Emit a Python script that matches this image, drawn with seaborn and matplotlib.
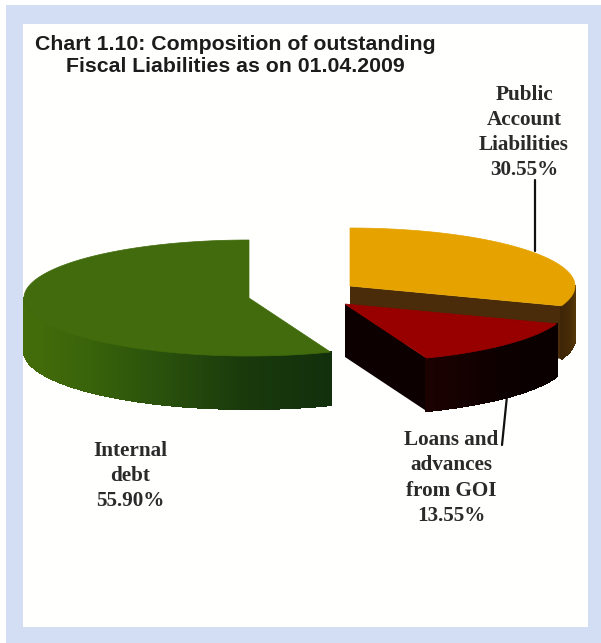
import numpy as np
import matplotlib
matplotlib.use("Agg")
import matplotlib.pyplot as plt
from matplotlib.collections import PolyCollection
from matplotlib.patches import Rectangle
import seaborn as sns

# Shares of outstanding fiscal liabilities, per cent
slice_names = ["Internal\ndebt", "Public\nAccount\nLiabilities", "Loans and\nadvances\nfrom GOI"]
slice_shares = [55.90, 30.55, 13.55]
title_lines = ["Chart 1.10: Composition of outstanding", "Fiscal Liabilities as on 01.04.2009"]

sns.set_theme(style="white")
plt.rcParams["font.family"] = ["Liberation Serif", "DejaVu Serif"]

fig = plt.figure(figsize=(6.01, 6.43), dpi=100)
ax = fig.add_axes([0, 0, 1, 1])
ax.set_xlim(0, 601)
ax.set_ylim(643, 0)
ax.axis("off")

# Page panel: pale blue band around a white sheet
ax.add_patch(Rectangle((6, 5), 595, 638, fc="#d3ddf3", ec="none", zorder=0))
ax.add_patch(Rectangle((23, 24), 565, 603, fc="#fffffe", ec="none", zorder=1))

RX, RY, DEPTH = 225.0, 58.0, 53.0


def degrees_of(share):
    return share * 3.6


def rim_point(cx, cy, theta):
    t = np.radians(theta)
    return cx + RX * np.cos(t), cy - RY * np.sin(t)


def draw_rim(cx, cy, a0, a1, colors, z):
    """Outer wall of a slice between two angles, shaded along the arc."""
    edges = np.linspace(a0, a1, len(colors) + 1)
    quads = []
    for e0, e1 in zip(edges[:-1], edges[1:]):
        x0, y0 = rim_point(cx, cy, e0)
        x1, y1 = rim_point(cx, cy, e1)
        quads.append([(x0, y0), (x1, y1), (x1, y1 + DEPTH), (x0, y0 + DEPTH)])
    ax.add_collection(PolyCollection(quads, facecolors=colors, edgecolors=colors,
                                     linewidths=0.8, antialiaseds=False, zorder=z))


def draw_radial_wall(cx, cy, theta, color, z):
    """Flat cut face running from the slice centre to the rim."""
    x, y = rim_point(cx, cy, theta)
    ax.fill([cx, x, x, cx], [cy, y, y + DEPTH, cy + DEPTH], color=color, lw=0, zorder=z)


def draw_top(cx, cy, a0, a1, color, z):
    thetas = np.linspace(a0, a1, 160)
    xs, ys = rim_point(cx, cy, thetas)
    ax.fill(np.r_[cx, xs], np.r_[cy, ys], color=color, lw=0.5, zorder=z)


debt_sweep, public_sweep, loans_sweep = [degrees_of(s) for s in slice_shares]

# Public account slice: clockwise from twelve o'clock, behind the loans slice
pa0, pa1 = 90 - public_sweep, 90
pc = (350, 286)
draw_radial_wall(*pc, pa0, "#4a2c0a", 3)
draw_rim(*pc, pa0, 0, sns.blend_palette(["#3d2506", "#553608"], 60), 4)
draw_top(*pc, pa0, pa1, "#e6a300", 5)

# Internal debt slice: counter-clockwise from twelve o'clock
da0, da1 = 90, 90 + debt_sweep
dc = (249, 298)
rim_shades = ["#436c0a", "#426b0a", "#3a640a", "#2a520c", "#1a3a0c", "#12300c"]
draw_rim(*dc, 180, da1, sns.blend_palette(rim_shades, 240), 3)
draw_top(*dc, da0, da1, "#416b0c", 5)

# Loans slice: continues clockwise from the public account slice
la1 = pa0
la0 = la1 - loans_sweep
lc = (345, 304)
draw_radial_wall(*lc, la0, "#0c0000", 6)
draw_rim(*lc, la0, la1, sns.blend_palette(["#1c0101", "#0c0000", "#0a0000"], 120), 7)
draw_top(*lc, la0, la1, "#980000", 8)

# Leader lines from the labels to their slices
line_color = "#111111"
ax.plot([535, 535], [180, 251], color=line_color, lw=1.6, zorder=2)
ax.plot([507, 502], [396, 445], color=line_color, lw=1.6, zorder=2)

# Title
title_style = dict(family=["Liberation Sans"], weight="bold", fontsize=15.3,
                   color="#1c1c1c", ha="center", va="center", zorder=10)
ax.text(235.5, 44, title_lines[0], **title_style)
ax.text(235, 67, title_lines[1], **title_style)

# Slice labels, one line every 24-25 pixels
label_style = dict(weight="bold", fontsize=15.2, color="#2a2a2a", ha="center",
                   va="center", linespacing=1.34, zorder=10)
ax.text(130, 476, f"{slice_names[0]}\n{slice_shares[0]:.2f}%", **label_style)
ax.text(524, 132.5, f"{slice_names[1]}\n{slice_shares[1]:.2f}%", **label_style)
ax.text(451, 478, f"{slice_names[2]}\n{slice_shares[2]:.2f}%", **label_style)

fig.savefig("out.png", dpi=100)
